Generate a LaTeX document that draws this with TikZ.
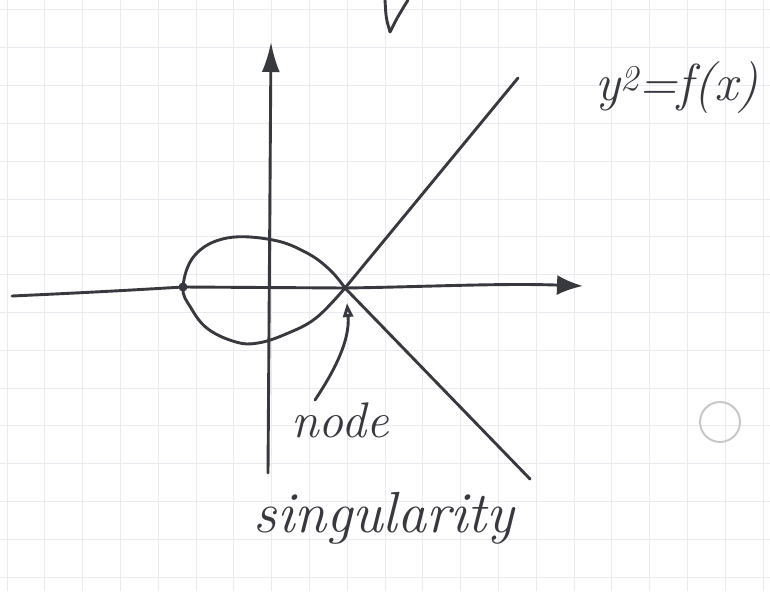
\documentclass[tikz,border=0pt]{standalone}
\usetikzlibrary{arrows.meta}
\definecolor{ink}{HTML}{38383F}
\definecolor{gridc}{HTML}{EAEAF0}
\definecolor{circc}{HTML}{C8C8CC}
\tikzset{
  inkline/.style={draw=ink, line width=2.9pt, line cap=round, line join=round},
  hand/.style={text=ink, font=\itshape, inner sep=0pt},
}
\begin{document}
\begin{tikzpicture}[x=1pt,y=-1pt]
\useasboundingbox (0,0) rectangle (770,591);
\fill[white] (0,0) rectangle (770,591);
% graph paper
\foreach \k in {0,...,20}{\draw[gridc, line width=1pt] ({7+37.8*\k},0) -- ({7+37.8*\k},591);}
\foreach \k in {0,...,15}{\draw[gridc, line width=1pt] (0,{10+37.8*\k}) -- (770,{10+37.8*\k});}
% key points
\coordinate (N) at (345,288);
\coordinate (L) at (183,287);
\coordinate (xs) at (12,296);
\coordinate (xe) at (583,286);
\coordinate (ys) at (268,473);
\coordinate (ye) at (271,42);
\coordinate (ur) at (518,78);
\coordinate (dr) at (530,479);
\coordinate (as) at (315,400);
\coordinate (ae) at (347,303);
% axes
\draw[inkline, -{Latex[length=26pt,width=20pt]}] (xs) .. controls (100,292) and (150,289) .. (L) -- (N) .. controls (420,287) and (500,283) .. (xe);
\draw[inkline, -{Latex[length=30pt,width=18pt]}] (ys) -- (ye);
% nodal cubic
\draw[inkline] plot[smooth, tension=0.65] coordinates {(N) (330,270) (307,253) (273,240) (227,238) (195,255) (L) (191,308) (208,329) (236,342) (258,343) (286,334) (316,318) (N)};
\fill[ink] (L) circle (4.5);
\draw[inkline] (N) -- (ur);
\draw[inkline] (N) -- (dr);
% annotation arrow
\draw[inkline, -{Triangle[open,length=14pt,width=10pt]}] (as) .. controls (335,370) and (350,340) .. (ae);
% partial stroke at top
\draw[inkline] (385,0) .. controls (386,18) .. (390,32) .. controls (397,18) .. (408,0);
% texts
\node[hand, font=\itshape\fontsize{50}{52}\selectfont, anchor=base] (nodetxt) at (340,437) {node};
\node[hand, font=\itshape\fontsize{58}{60}\selectfont, anchor=base] (singtxt) at (384,532) {singularity};
\node[hand, font=\itshape\fontsize{52}{54}\selectfont, anchor=base] (eqtxt) at (677,100) {y\textsuperscript{2}=f(x)};
% faint circle
\draw[circc, line width=2pt] (720,422) circle (20) node (circ) {};
\end{tikzpicture}
\end{document}
